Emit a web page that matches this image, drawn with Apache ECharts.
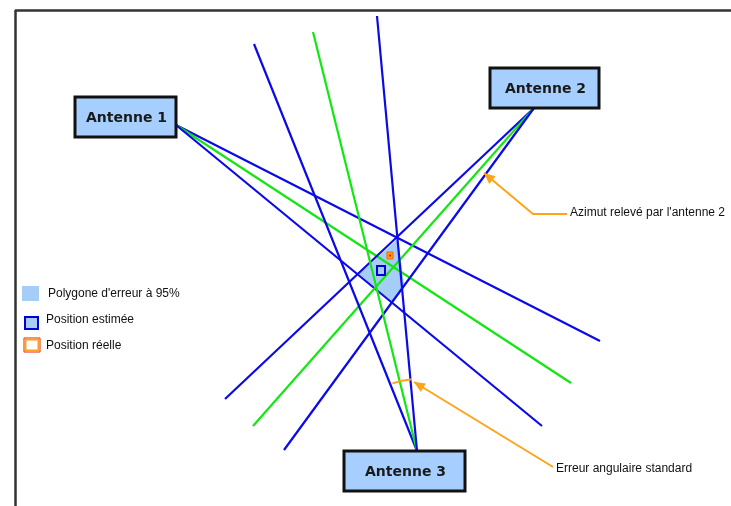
<!DOCTYPE html>
<html><head><meta charset="utf-8">
<script src="https://cdn.jsdelivr.net/npm/echarts@6/dist/echarts.min.js"></script>
<style>html,body{margin:0;padding:0;background:#fff}#c{width:731px;height:506px}</style>
</head><body><div id="c"></div>
<script>
// Diagram coordinates (pixel space of the drawing, y downward)
const antennaNames = ['Antenne 1', 'Antenne 2', 'Antenne 3'];
const antennaBoxes = [[75, 97, 176, 137], [490, 68, 599, 108], [344, 451, 465, 491]];
const antennaOrigins = [[176, 125], [534, 108], [417, 451]];
// bearing line end points for each antenna: [blue, green, blue]
const bearingEnds = [
  [[600, 341], [571, 383], [542, 426]],
  [[225, 399], [253, 426], [284, 450]],
  [[254, 44], [313, 32], [377, 16]]
];
const bearingKinds = ['blue', 'green', 'blue'];
const errorPolygon = [[398, 239], [404, 284], [393, 302], [359, 274]];
const estimatedPos = [[377, 266], [385, 275]];
const realPos = [[387, 252], [393, 259]];
const legendLabels = ["Polygone d'erreur à 95%", 'Position estimée', 'Position réelle'];
const legendSwatches = [[22, 286, 39, 301], [24, 316, 39, 330], [24, 338, 40, 352]];
const legendTextPos = [[48, 294], [46, 320], [46, 346]];
const annotationTexts = ["Azimut relevé par l'antenne 2", 'Erreur angulaire standard'];
const annotationTextPos = [[570, 213], [556, 469]];
const annotationPaths = [
  [[567, 214], [533, 214], [484, 173]],
  [[553, 467], [414, 382]]
];
const arcCenter = [417, 451];
const arcRadius = 72;
const arcAnglesDeg = [-110, -94];
const frameLines = [[[15, 10], [731, 10]], [[15, 10], [15, 506]]];

const colors = { blue: '#0a0ae6', green: '#14e614', fill: '#a6cdf8', box: '#a6cfff', orange: '#ffa419' };

const lineData = [];
bearingEnds.forEach((ends, i) => ends.forEach((e, j) => {
  lineData.push({ coords: [antennaOrigins[i], e], lineStyle: { color: colors[bearingKinds[j]] } });
}));

const chart = echarts.init(document.getElementById('c'));
chart.setOption({
  animation: false,
  grid: { left: 0, right: 0, top: 0, bottom: 0 },
  xAxis: { type: 'value', min: 0, max: 731, show: false },
  yAxis: { type: 'value', min: 0, max: 506, inverse: true, show: false },
  series: [
    { // frame
      type: 'lines', coordinateSystem: 'cartesian2d', z: 1, silent: true,
      lineStyle: { color: '#333', width: 2.5, opacity: 1 },
      data: frameLines.map(c => ({ coords: c }))
    },
    { // error polygon
      type: 'custom', z: 2, silent: true, data: [0],
      renderItem: (p, api) => ({
        type: 'polygon',
        shape: { points: errorPolygon.map(pt => api.coord(pt)) },
        style: { fill: colors.fill }
      })
    },
    { // bearing lines
      type: 'lines', coordinateSystem: 'cartesian2d', z: 3, silent: true,
      lineStyle: { width: 2.2, opacity: 1 },
      data: lineData
    },
    { // markers in plot
      type: 'custom', z: 4, silent: true, data: [0],
      renderItem: (p, api) => {
        const e1 = api.coord(estimatedPos[0]), e2 = api.coord(estimatedPos[1]);
        const r1 = api.coord(realPos[0]), r2 = api.coord(realPos[1]);
        return { type: 'group', children: [
          { type: 'rect', shape: { x: e1[0], y: e1[1], width: e2[0] - e1[0], height: e2[1] - e1[1] },
            style: { fill: colors.fill, stroke: '#0000dd', lineWidth: 2 } },
          { type: 'rect', shape: { x: r1[0], y: r1[1], width: r2[0] - r1[0], height: r2[1] - r1[1] },
            style: { fill: '#ff9a1a', stroke: '#f06a00', lineWidth: 1 } },
          { type: 'rect', shape: { x: (r1[0] + r2[0]) / 2 - 1, y: (r1[1] + r2[1]) / 2 - 1, width: 2, height: 2 },
            style: { fill: '#e82000' } }
        ] };
      }
    },
    { // annotations
      type: 'custom', z: 5, silent: true, data: annotationPaths.map((_, i) => i),
      renderItem: (p, api) => {
        const i = api.value(0);
        const pts = annotationPaths[i].map(pt => api.coord(pt));
        const tip = pts[pts.length - 1], prev = pts[pts.length - 2];
        const ang = Math.atan2(tip[1] - prev[1], tip[0] - prev[0]);
        const L = 11, W = 5;
        const bx = tip[0] - L * Math.cos(ang), by = tip[1] - L * Math.sin(ang);
        const head = [tip, [bx + W * Math.sin(ang), by - W * Math.cos(ang)], [bx - W * Math.sin(ang), by + W * Math.cos(ang)]];
        const tp = api.coord(annotationTextPos[i]);
        return { type: 'group', children: [
          { type: 'polyline', shape: { points: pts }, style: { stroke: colors.orange, lineWidth: 2, fill: null } },
          { type: 'polygon', shape: { points: head }, style: { fill: colors.orange } },
          { type: 'text', style: { x: tp[0], y: tp[1], text: annotationTexts[i], font: '12px "Liberation Sans", Arial, sans-serif',
            fill: '#111', verticalAlign: 'middle', align: 'left' } }
        ] };
      }
    },
    { // arc
      type: 'custom', z: 5, silent: true, data: [0],
      renderItem: (p, api) => {
        const c = api.coord(arcCenter);
        return { type: 'arc', shape: { cx: c[0], cy: c[1], r: arcRadius,
          startAngle: arcAnglesDeg[0] * Math.PI / 180, endAngle: arcAnglesDeg[1] * Math.PI / 180, clockwise: true },
          style: { stroke: colors.orange, lineWidth: 2, fill: null } };
      }
    },
    { // antenna boxes
      type: 'custom', z: 6, silent: true, data: antennaBoxes.map((b, i) => [b[0], b[1], b[2], b[3], i]),
      renderItem: (p, api) => {
        const a = api.coord([api.value(0), api.value(1)]);
        const b = api.coord([api.value(2), api.value(3)]);
        return { type: 'group', children: [
          { type: 'rect', shape: { x: a[0], y: a[1], width: b[0] - a[0], height: b[1] - a[1] },
            style: { fill: colors.box, stroke: '#111', lineWidth: 3 } },
          { type: 'text', style: { x: (a[0] + b[0]) / 2 + 1, y: (a[1] + b[1]) / 2 + 1, text: antennaNames[api.value(4)],
            font: 'bold 14px "DejaVu Sans", Verdana, sans-serif', fill: '#1a1a1a', align: 'center', verticalAlign: 'middle' } }
        ] };
      }
    },
    { // legend
      type: 'custom', z: 6, silent: true, data: legendLabels.map((_, i) => i),
      renderItem: (p, api) => {
        const i = api.value(0);
        const s = legendSwatches[i];
        const a = api.coord([s[0], s[1]]), b = api.coord([s[2], s[3]]);
        const shape = { x: a[0], y: a[1], width: b[0] - a[0], height: b[1] - a[1] };
        const tp = api.coord(legendTextPos[i]);
        let sw;
        if (i === 0) sw = [{ type: 'rect', shape, style: { fill: colors.fill } }];
        else if (i === 1) sw = [{ type: 'rect', shape: { x: shape.x + 1, y: shape.y + 1, width: shape.width - 2, height: shape.height - 2 },
          style: { fill: colors.fill, stroke: '#0000dd', lineWidth: 2 } }];
        else sw = [
          { type: 'rect', shape, style: { fill: '#fff', stroke: '#f01800', lineWidth: 1 } },
          { type: 'rect', shape: { x: shape.x + 1.5, y: shape.y + 1.5, width: shape.width - 3, height: shape.height - 3 },
            style: { fill: '#fff', stroke: '#ffa020', lineWidth: 2 } }
        ];
        return { type: 'group', children: sw.concat([
          { type: 'text', style: { x: tp[0], y: tp[1], text: legendLabels[i], font: '12px "Liberation Sans", Arial, sans-serif',
            fill: '#111', verticalAlign: 'middle', align: 'left' } }
        ]) };
      }
    }
  ]
});
</script></body></html>
